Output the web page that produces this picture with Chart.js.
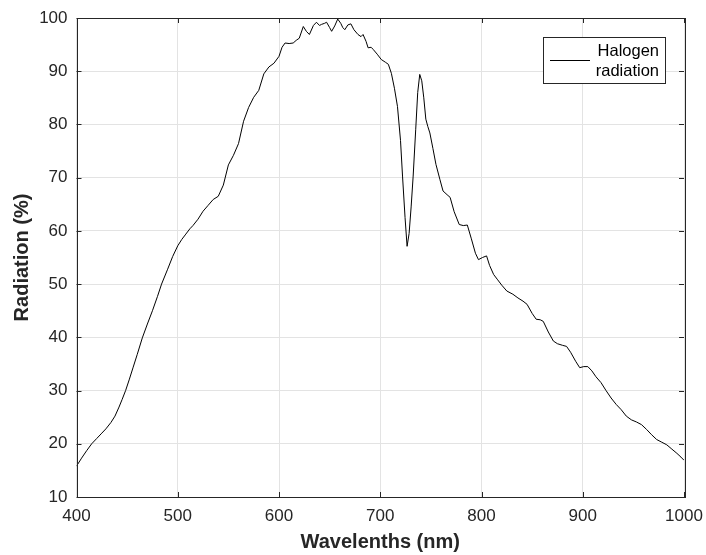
<!DOCTYPE html>
<html>
<head>
<meta charset="utf-8">
<script src="https://cdn.jsdelivr.net/npm/chart.js@4.4.1/dist/chart.umd.min.js"></script>
<style>
  body { margin: 0; background: #fff; }
  canvas { display: block; }
</style>
</head>
<body>
<canvas id="spectrumChart" width="706" height="555"></canvas>
<script>
// Halogen lamp spectrum
const wavelengths = [
  400, 405, 410, 415, 420, 425, 429, 434, 438, 442, 445, 448.5, 452, 456, 460, 465, 470, 475, 480, 484,
  490, 495, 500, 504, 508, 512, 515, 520, 525, 530, 535, 540, 545, 550, 555, 560, 565, 570, 575, 580,
  585, 590, 595, 600, 603, 606, 610, 614, 617, 620, 624, 627, 630, 634, 637, 640, 642, 645, 647, 650,
  652, 655, 658, 661, 663, 665, 668, 671, 674, 678, 681, 683, 686, 688, 691, 693, 697, 701, 705, 708,
  711, 714, 717, 720, 722, 724.5, 726.5, 728.5, 730.5, 732.5, 735, 737, 739, 741, 743, 745, 747, 749, 752, 755,
  759, 762, 766, 769, 773, 778, 782, 786, 790, 794, 797, 801, 805, 808, 812, 816, 820, 825, 831, 836,
  841, 845, 850, 854, 858, 861, 866, 871, 875, 880, 884, 888, 893, 897, 901, 905, 909, 913, 918, 923,
  928, 933, 938, 943, 948, 953, 958, 963, 968, 973, 978, 983, 988, 993, 997, 1000
];
const radiation = [
  15.8, 17.3, 18.7, 20.0, 21.0, 22.0, 22.8, 24.0, 25.2, 26.9, 28.3, 30.0, 32.0, 34.4, 36.8, 39.9, 42.5, 45.0, 47.7, 50.0,
  52.8, 55.2, 57.2, 58.4, 59.4, 60.4, 61.0, 62.2, 63.7, 64.8, 65.9, 66.5, 68.6, 72.4, 74.2, 76.4, 80.6, 83.2, 85.1, 86.4,
  89.5, 90.8, 91.5, 92.8, 94.5, 95.3, 95.2, 95.3, 95.8, 96.2, 98.4, 97.5, 96.9, 98.6, 99.2, 98.6, 98.8, 99.0, 99.2, 98.2,
  97.5, 98.5, 99.8, 99.0, 98.2, 97.8, 98.7, 98.9, 97.8, 96.9, 96.5, 96.9, 95.6, 94.4, 94.5, 94.1, 93.2, 92.2, 91.7, 91.3,
  89.6, 86.8, 83.4, 77.0, 70.3, 62.5, 57.1, 59.5, 64.5, 70.3, 79.0, 86.0, 89.4, 88.2, 85.0, 81.0, 79.6, 78.4, 75.5, 72.5,
  69.6, 67.5, 66.8, 66.3, 63.6, 61.2, 61.0, 61.1, 58.5, 55.8, 54.6, 55.0, 55.3, 53.5, 51.8, 50.8, 49.8, 48.7, 48.1, 47.4,
  46.8, 46.2, 44.5, 43.4, 43.3, 43.0, 41.0, 39.3, 38.8, 38.5, 38.3, 37.2, 35.5, 34.3, 34.5, 34.5, 33.7, 32.6, 31.5, 30.0,
  28.6, 27.4, 26.4, 25.2, 24.5, 24.1, 23.6, 22.7, 21.7, 20.8, 20.3, 19.8, 19.0, 18.2, 17.5, 16.9
];
const xTicks = [400, 500, 600, 700, 800, 900, 1000];
const yTicks = [10, 20, 30, 40, 50, 60, 70, 80, 90, 100];
const seriesLabel = ['Halogen', 'radiation'];

const axisColor = '#262626';
const gridColor = '#e3e3e3';

// matlab-like box, inward ticks and legend
const matlabAxes = {
  id: 'matlabAxes',
  afterDraw(chart) {
    const { ctx, chartArea: a, scales } = chart;
    const tl = 5;
    ctx.save();
    ctx.strokeStyle = axisColor;
    ctx.lineWidth = 1;
    ctx.beginPath();
    xTicks.forEach(v => {
      const x = Math.round(scales.x.getPixelForValue(v)) + 0.5;
      ctx.moveTo(x, a.bottom); ctx.lineTo(x, a.bottom - tl);
      ctx.moveTo(x, a.top); ctx.lineTo(x, a.top + tl);
    });
    yTicks.forEach(v => {
      const y = Math.round(scales.y.getPixelForValue(v)) + 0.5;
      ctx.moveTo(a.left, y); ctx.lineTo(a.left + tl, y);
      ctx.moveTo(a.right, y); ctx.lineTo(a.right - tl, y);
    });
    ctx.stroke();
    ctx.strokeRect(Math.round(a.left) + 0.5, Math.round(a.top) + 0.5,
      Math.round(a.right - a.left), Math.round(a.bottom - a.top));

    // legend
    const bx = 543.5, by = 37.5, bw = 122, bh = 46;
    ctx.fillStyle = '#fff';
    ctx.fillRect(bx, by, bw, bh);
    ctx.strokeStyle = axisColor;
    ctx.strokeRect(bx, by, bw, bh);
    ctx.strokeStyle = '#000';
    ctx.beginPath();
    ctx.moveTo(550, 60.5); ctx.lineTo(590, 60.5);
    ctx.stroke();
    ctx.fillStyle = '#000';
    ctx.font = '16.5px "Liberation Sans", Arial, sans-serif';
    ctx.textAlign = 'right';
    ctx.textBaseline = 'middle';
    ctx.fillText(seriesLabel[0], 659, 51);
    ctx.fillText(seriesLabel[1], 659, 71);
    ctx.restore();
  }
};

const ctx = document.getElementById('spectrumChart').getContext('2d');
const spectrumChart = new Chart(ctx, {
  type: 'line',
  data: {
    datasets: [{
      label: seriesLabel.join(' '),
      data: wavelengths.map((w, i) => ({ x: w, y: radiation[i] })),
      borderColor: '#000',
      borderWidth: 1,
      pointRadius: 0,
      tension: 0,
      fill: false
    }]
  },
  options: {
    responsive: false,
    animation: false,
    layout: { padding: { top: 18, right: 22, left: 0, bottom: 0 } },
    plugins: {
      legend: { display: false },
      tooltip: { enabled: false }
    },
    scales: {
      x: {
        type: 'linear',
        min: 400,
        max: 1000,
        afterFit: s => { s.height = 58; s.paddingRight = 0; s.paddingLeft = 0; },
        afterBuildTicks: s => { s.ticks = xTicks.map(v => ({ value: v })); },
        ticks: {
          color: axisColor,
          font: { family: '"Liberation Sans", Arial, sans-serif', size: 17 },
          padding: 9,
          maxRotation: 0,
          callback: v => String(v)
        },
        grid: { color: gridColor, drawTicks: false },
        border: { display: false },
        title: {
          display: true,
          text: 'Wavelenths (nm)',
          color: axisColor,
          font: { family: '"Liberation Sans", Arial, sans-serif', size: 20, weight: 'bold' },
          padding: { top: 0, bottom: 1 }
        }
      },
      y: {
        min: 10,
        max: 100,
        afterFit: s => { s.width = 76.5; s.paddingTop = 0; s.paddingBottom = 0; },
        afterBuildTicks: s => { s.ticks = yTicks.map(v => ({ value: v })); },
        ticks: {
          color: axisColor,
          font: { family: '"Liberation Sans", Arial, sans-serif', size: 17 },
          padding: 9
        },
        grid: { color: gridColor, drawTicks: false },
        border: { display: false },
        title: {
          display: true,
          text: 'Radiation (%)',
          color: axisColor,
          font: { family: '"Liberation Sans", Arial, sans-serif', size: 20, weight: 'bold' },
          padding: { top: 10, bottom: 0 }
        }
      }
    }
  },
  plugins: [matlabAxes]
});
</script>
</body>
</html>
